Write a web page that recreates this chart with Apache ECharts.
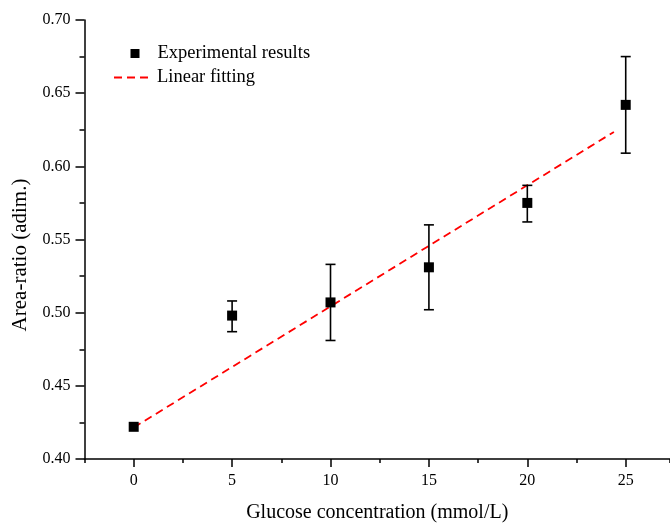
<!DOCTYPE html>
<html>
<head>
<meta charset="utf-8">
<script src="https://cdn.jsdelivr.net/npm/echarts@6/dist/echarts.min.js"></script>
<style>
html, body { margin: 0; padding: 0; background: #fff; }
#chart { width: 670px; height: 523px; }
</style>
</head>
<body>
<div id="chart"></div>
<script>
// 实验数据
var concentrations = [0, 5, 10, 15, 20, 25];
var areaRatio = [0.422, 0.498, 0.507, 0.531, 0.575, 0.642];
var errUpper = [0.422, 0.508, 0.533, 0.560, 0.587, 0.675];
var errLower = [0.422, 0.487, 0.481, 0.502, 0.562, 0.609];
// 线性拟合
var fitX = [0, 24.4];
var fitY = [0.4215, 0.6235];
var xTickLabels = [0, 5, 10, 15, 20, 25];

var font = 'Liberation Serif, Times New Roman, serif';
var myChart = echarts.init(document.getElementById('chart'));

myChart.setOption({
  animation: false,
  grid: { left: 84.5, right: 0, top: 20, bottom: 64, outerBoundsMode: 'none' },
  legend: [
    {
      left: 125.5,
      top: 39,
      itemWidth: 9,
      itemHeight: 9,
      textStyle: { fontFamily: font, fontSize: 18.5, color: '#000', padding: [0, 0, 0, 13] },
      data: [{ name: 'Experimental results', icon: 'rect', itemStyle: { color: '#000', opacity: 1 } }]
    },
    {
      left: 108,
      top: 63,
      itemWidth: 38,
      itemHeight: 10,
      textStyle: { fontFamily: font, fontSize: 18.5, color: '#000' },
      data: [{ name: 'Linear fitting', itemStyle: { color: 'transparent', borderWidth: 0 } }]
    }
  ],
  xAxis: [
    {
      type: 'value',
      min: -2.5,
      max: 27.25,
      interval: 2.5,
      name: 'Glucose concentration (mmol/L)',
      nameLocation: 'middle',
      nameGap: 44,
      nameTextStyle: { fontFamily: font, fontSize: 20, color: '#000' },
      axisLine: { onZero: false, lineStyle: { color: '#000', width: 1.5 } },
      axisTick: { length: 4, lineStyle: { color: '#000', width: 1.5 } },
      axisLabel: {
        margin: 14,
        customValues: xTickLabels,
        fontFamily: font, fontSize: 16, color: '#000'
      },
      splitLine: { show: false }
    },
    {
      type: 'value',
      position: 'bottom',
      min: -2.5,
      max: 27.25,
      interval: 2.5,
      axisLine: { show: false, onZero: false },
      axisTick: { length: 8, customValues: xTickLabels, lineStyle: { color: '#000', width: 1.5 } },
      axisLabel: { show: false },
      splitLine: { show: false }
    }
  ],
  yAxis: {
    type: 'value',
    min: 0.40,
    max: 0.70,
    interval: 0.05,
    name: 'Area-ratio (adim.)',
    nameLocation: 'middle',
    nameGap: 54,
    nameTextStyle: { fontFamily: font, fontSize: 21, color: '#000', padding: [0, 31, 0, 0] },
    axisLine: { show: true, onZero: false, lineStyle: { color: '#000', width: 1.5 } },
    axisTick: { show: true, length: 9, lineStyle: { color: '#000', width: 1.5 } },
    minorTick: { show: true, splitNumber: 2, length: 5, lineStyle: { color: '#000', width: 1.5 } },
    axisLabel: {
      margin: 14,
      fontFamily: font, fontSize: 16, color: '#000',
      formatter: function (v) { return v.toFixed(2); }
    },
    splitLine: { show: false }
  },
  series: [
    {
      name: 'Linear fitting',
      type: 'line',
      symbol: 'none',
      data: fitX.map(function (x, i) { return [x, fitY[i]]; }),
      lineStyle: { color: '#ff0000', width: 1.8, type: [8, 5] },
      itemStyle: { color: '#ff0000' },
      z: 3
    },
    {
      name: 'errorbar',
      type: 'custom',
      data: concentrations.map(function (x, i) { return [x, errLower[i], errUpper[i]]; }),
      renderItem: function (params, api) {
        var lo = api.coord([api.value(0), api.value(1)]);
        var hi = api.coord([api.value(0), api.value(2)]);
        if (Math.abs(hi[1] - lo[1]) < 1) return { type: 'group', children: [] };
        var w = 5;
        var style = { stroke: '#000', lineWidth: 1.6 };
        return {
          type: 'group',
          children: [
            { type: 'line', shape: { x1: lo[0], y1: lo[1], x2: hi[0], y2: hi[1] }, style: style },
            { type: 'line', shape: { x1: lo[0] - w, y1: lo[1], x2: lo[0] + w, y2: lo[1] }, style: style },
            { type: 'line', shape: { x1: hi[0] - w, y1: hi[1], x2: hi[0] + w, y2: hi[1] }, style: style }
          ]
        };
      },
      z: 4
    },
    {
      name: 'Experimental results',
      type: 'scatter',
      symbol: 'rect',
      symbolSize: 10,
      data: concentrations.map(function (x, i) { return [x, areaRatio[i]]; }),
      itemStyle: { color: '#000', opacity: 1 },
      z: 5
    }
  ]
});
</script>
</body>
</html>
